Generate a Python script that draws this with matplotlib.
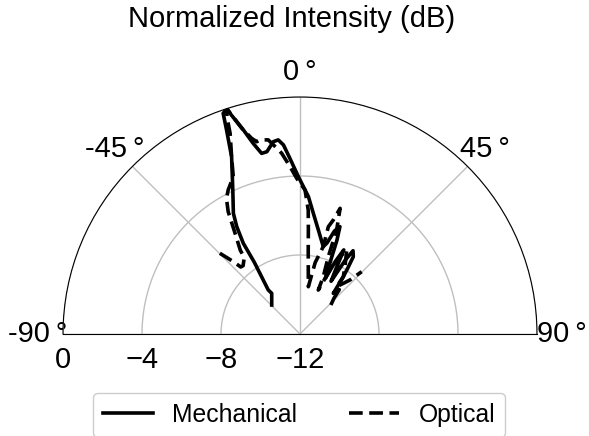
import numpy as np
import matplotlib
matplotlib.use('Agg')
import matplotlib.pyplot as plt

plt.rcParams['font.family'] = ['Liberation Sans', 'DejaVu Sans']

# beam patterns: angle (deg) and normalized level (dB)
mech_angle = [-44.3, -34.8, -35.8, -32.5, -32.0, -30.5, -28.9, -25.0, -21.1, -19.8,
              -19.2, -18.0, -17.6, -15.5, -13.8, -12.0, -10.3, -7.9, -6.4, -5.0,
              -3.3, -0.6, 3.5, 6.3, 10.0, 14.9, 16.5, 18.5, 20.4, 21.5,
              23.0, 24.5, 26.0, 27.5, 29.0, 30.5, 31.5, 32.5, 34.6, 36.0,
              37.1, 39.3, 41.5, 43.5, 45.9]
mech_db = [-9.95, -9.49, -9.25, -7.7, -6.58, -5.69, -5.02, -3.95, -2.38, -1.02,
           -0.17, 0.0, -0.28, -1.28, -2.06, -2.65, -2.62, -2.17, -2.11, -2.39,
           -3.09, -4.03, -5.03, -5.85, -6.65, -7.42, -7.2, -6.5, -6.2, -6.9,
           -8.2, -8.9, -7.9, -7.2, -8.3, -8.9, -7.6, -7.0, -7.25, -7.9,
           -8.36, -9.34, -9.0, -9.5, -9.77]

opt_angle = [-44.8, -42.7, -41.5, -39.8, -36.0, -35.5, -32.8, -30.4, -28.5, -26.5,
             -23.0, -21.1, -19.2, -18.6, -18.0, -17.3, -15.8, -13.9, -12.7, -11.6,
             -9.3, -7.1, -5.8, -3.4, -1.2, 2.0, 3.8, 4.6, 5.6, 10.0,
             12.0, 14.9, 14.8, 16.3, 17.7, 19.4, 20.1, 22.1, 22.6, 25.1,
             27.4, 29.1, 33.0, 37.1, 37.8, 42.8, 44.7]
opt_db = [-6.24, -7.0, -7.47, -7.5, -7.2, -6.8, -5.93, -4.81, -4.2, -3.85,
          -3.35, -2.38, -1.24, -0.4, 0.0, -0.4, -1.17, -1.79, -2.02, -1.97,
          -2.04, -2.52, -2.8, -3.51, -4.12, -4.7, -5.71, -6.72, -7.73, -9.57,
          -8.3, -7.42, -6.38, -5.98, -5.32, -6.41, -7.83, -8.87, -9.59, -8.42,
          -7.6, -7.13, -7.8, -8.36, -8.97, -8.27, -7.56]

r_ticks = [-12, -8, -4, 0]
theta_ticks = [-90, -45, 0, 45, 90]
theta_labels = ['-90\u2009°', '-45\u2009°', '0\u2009°', '45\u2009°', '90\u2009°']

fig = plt.figure(figsize=(5.89, 4.36), dpi=100)
# square box: the half disc sits in its middle band
ax = fig.add_axes([63 / 589, (436 - 452.5) / 436, 474 / 589, 474 / 436],
                  projection='polar')
ax.set_theta_zero_location('N')
ax.set_theta_direction(-1)
ax.set_thetamin(-90)
ax.set_thetamax(90)
ax.set_rlim(-12, 0)

ax.plot(np.deg2rad(mech_angle), mech_db, color='k', lw=2.6, label='Mechanical')
ax.plot(np.deg2rad(opt_angle), opt_db, color='k', lw=2.6,
        ls=(0, (3.8, 1.8)), label='Optical')

ax.set_xticks(np.deg2rad(theta_ticks))
ax.set_xticklabels(theta_labels)
ax.set_yticks(r_ticks)
ax.grid(color='#bfbfbf', lw=1)
ax.tick_params(axis='x', labelsize=21, pad=11, length=0)
ax.tick_params(axis='y', labelsize=21, pad=9, length=0)
for s in ax.spines.values():
    s.set_linewidth(0.8)

fig.text(0.495, 1 - 27 / 436, 'Normalized Intensity (dB)', ha='center',
         va='baseline', fontsize=21)

fig.legend(loc='upper center', bbox_to_anchor=(0.508, 1 - 393 / 436), ncol=2,
           fontsize=17.8, columnspacing=2.1, handletextpad=0.8,
           borderaxespad=0, edgecolor='#cccccc', framealpha=1)

fig.savefig('out.png', dpi=100)
